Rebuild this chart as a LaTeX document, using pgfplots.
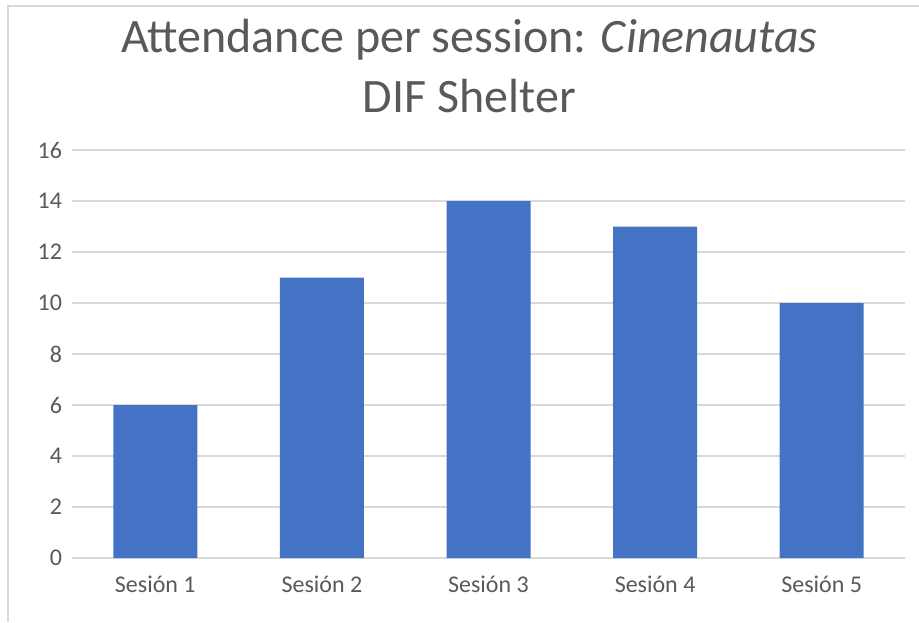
\documentclass[border=0pt]{standalone}
\usepackage{fontspec}
\setmainfont{Carlito}
\usepackage{pgfplots}
\pgfplotsset{compat=1.18}
\definecolor{barblue}{HTML}{4472C4}
\definecolor{gridgray}{HTML}{D9D9D9}
\definecolor{txtgray}{HTML}{595959}
\definecolor{framegray}{HTML}{D9D9D9}

\begin{document}
\begin{tikzpicture}
% page is 919x622 px at 0.75pt per px
\path[use as bounding box] (0pt,0pt) rectangle (689.25pt,466.5pt);
\draw[framegray, line width=0.8pt] (6pt,0pt) -- (6pt,462pt) -- (689.25pt,462pt);

\node[anchor=base, text=txtgray, font=\fontsize{36}{42}\selectfont]
  at (352pt,427pt) {Attendance per session: \textit{Cinenautas}};
\node[anchor=base, text=txtgray, font=\fontsize{36}{42}\selectfont]
  at (352pt,382pt) {DIF Shelter};

\begin{axis}[
    at={(54pt,48pt)}, anchor=south west,
    scale only axis,
    width=624.75pt, height=306pt,
    xmin=-0.5, xmax=4.5,
    ymin=0, ymax=16,
    ytick={0,2,...,16},
    xtick=data,
    xticklabels={Sesión 1,Sesión 2,Sesión 3,Sesión 4,Sesión 5},
    axis line style={draw=none},
    tick style={draw=none},
    ymajorgrids,
    grid style={gridgray, line width=0.8pt},
    ybar, bar width=63pt,
    /pgf/number format/assume math mode=true,
    tick label style={text=txtgray, font=\fontsize{18}{20}\selectfont},
    yticklabel style={xshift=-4pt},
    xticklabel style={yshift=-6pt},
    clip=false,
]
\draw[gridgray, line width=0.8pt] (axis cs:-0.5,0) -- (axis cs:4.5,0);
\addplot[fill=barblue, draw=none] coordinates {
    (0,6) (1,11) (2,14) (3,13) (4,10)};
\end{axis}
\end{tikzpicture}
\end{document}
